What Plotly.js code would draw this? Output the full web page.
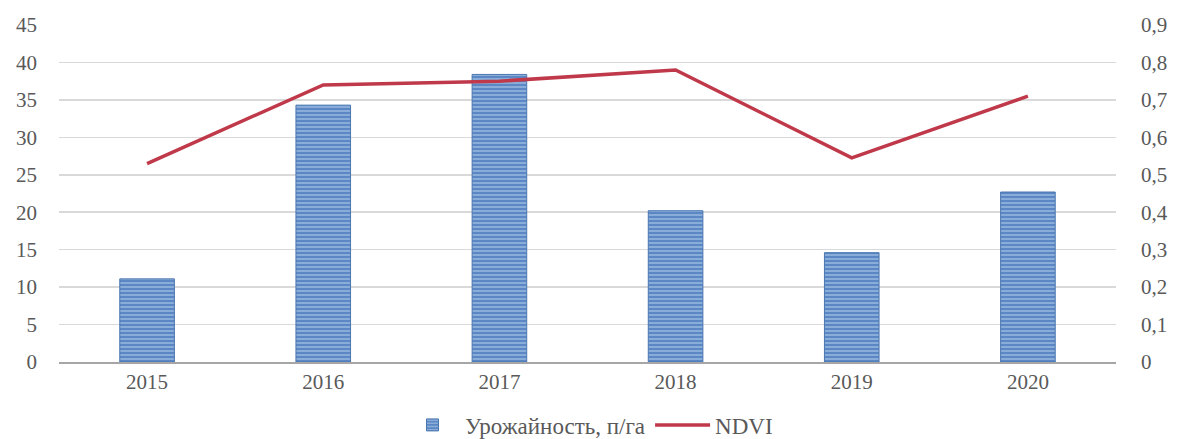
<!DOCTYPE html>
<html>
<head>
<meta charset="utf-8">
<script src="https://cdn.plot.ly/plotly-3.0.1.min.js"></script>
<style>html,body{margin:0;padding:0;background:#fff;}#chart{width:1178px;height:439px;}</style>
</head>
<body>
<div id="chart"></div>
<script>
const years = ['2015', '2016', '2017', '2018', '2019', '2020'];
const yieldValues = [11.1, 34.3, 38.4, 20.2, 14.6, 22.7];
const ndviValues = [0.53, 0.74, 0.75, 0.78, 0.545, 0.71];
const leftTicks = [0, 5, 10, 15, 20, 25, 30, 35, 40, 45];
const rightTicks = [0, 0.1, 0.2, 0.3, 0.4, 0.5, 0.6, 0.7, 0.8, 0.9];

const tickFont = {family: 'Liberation Serif, serif', size: 21, color: '#595959'};

const traces = [
  {
    type: 'bar', x: years, y: yieldValues, name: 'Урожайность, п/га',
    marker: {
      color: '#5b88c4',
      line: {color: '#4a76b0', width: 1},
      pattern: {shape: '-', fgcolor: '#b9d0ee', bgcolor: '#5b88c4', size: 4, solidity: 0.25}
    },
    yaxis: 'y'
  },
  {
    type: 'scatter', mode: 'lines', x: years, y: ndviValues, name: 'NDVI',
    line: {color: '#c0394a', width: 3.5},
    yaxis: 'y2'
  }
];

const layout = {
  width: 1178, height: 439,
  margin: {l: 59, r: 62, t: 25, b: 77, autoexpand: false},
  paper_bgcolor: '#fff', plot_bgcolor: '#fff',
  separators: ',.',
  bargap: 0.69,
  showlegend: true,
  legend: {orientation: 'h', x: 0.5, xanchor: 'center', xref: 'container', y: 0.032, yanchor: 'middle', yref: 'container',
           font: {family: 'Liberation Serif, serif', size: 23, color: '#595959'}, traceorder: 'normal', itemwidth: 55},
  xaxis: {
    type: 'category', tickfont: tickFont, showgrid: false, showline: true,
    linecolor: '#a6a6a6', linewidth: 2, ticks: '', ticklabelstandoff: 0
  },
  yaxis: {
    range: [0, 45], tickvals: leftTicks, tickfont: tickFont,
    showgrid: true, gridcolor: '#d9d9d9', gridwidth: 1.5, zeroline: false, showline: false,
    ticklabelstandoff: 21
  },
  yaxis2: {
    range: [0, 0.9], tickvals: rightTicks, tickfont: tickFont, overlaying: 'y', side: 'right',
    showgrid: false, zeroline: false, showline: false, ticklabelstandoff: 24
  }
};

Plotly.newPlot('chart', traces, layout, {displayModeBar: false, staticPlot: true});
</script>
</body>
</html>
